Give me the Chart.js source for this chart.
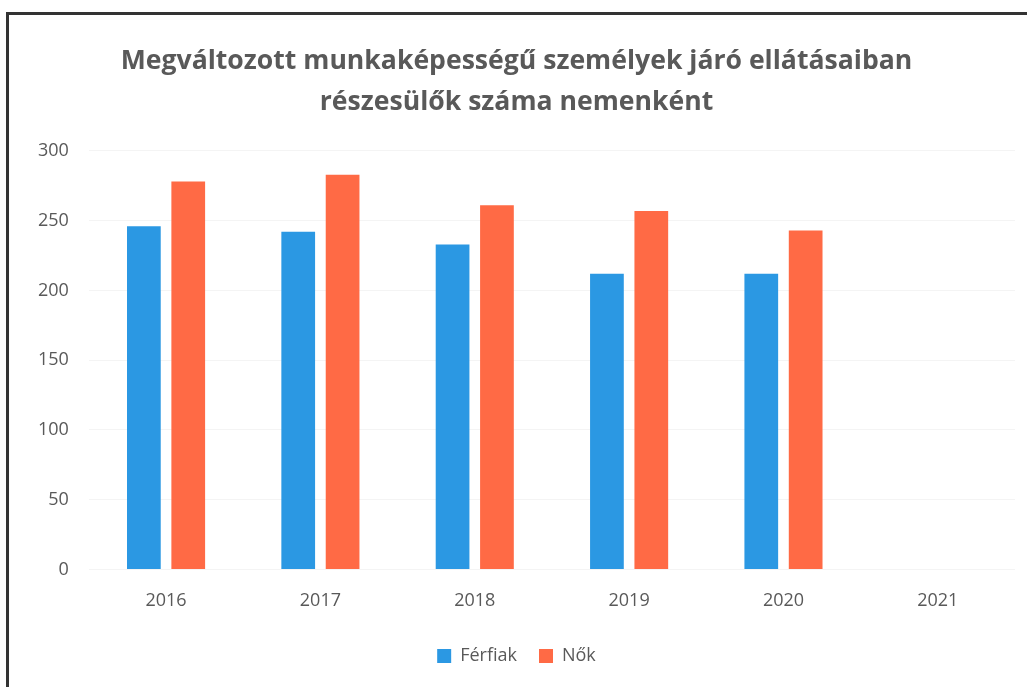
<!DOCTYPE html>
<html>
<head>
<meta charset="utf-8">
<script src="https://cdn.jsdelivr.net/npm/chart.js@4/dist/chart.umd.min.js"></script>
<style>
    body { margin: 0; background: #fff; }
    #frame {
        position: absolute; left: 0; top: 0; width: 1027px; height: 687px;
    }
    #border {
        position: absolute; left: 6px; top: 12px; width: 1040px; height: 700px;
        border-left: 3px solid #333; border-top: 3px solid #333;
    }
</style>
</head>
<body>
<div id="frame">
    <div id="border"></div>
    <canvas id="chart" width="1027" height="687"></canvas>
</div>
<script>
let years = ['2016', '2017', '2018', '2019', '2020', '2021'];
let ferfiak = [246, 242, 233, 212, 212, null];
let nok = [278, 283, 261, 257, 243, null];
let titleLines = ['Megváltozott munkaképességű személyek járó ellátásaiban', 'részesülők száma nemenként'];

let ctx = document.getElementById('chart').getContext('2d');
let chart = new Chart(ctx, {
    type: 'bar',
    data: {
        labels: years,
        datasets: [
            { label: 'Férfiak', data: ferfiak, backgroundColor: '#2b98e3' },
            { label: 'Nők', data: nok, backgroundColor: '#ff6a45' }
        ]
    },
    options: {
        responsive: false,
        animation: false,
        layout: { padding: { left: 18, right: 12, top: 41, bottom: 12 } },
        categoryPercentage: 0.575,
        barPercentage: 0.76,
        plugins: {
            title: {
                display: true,
                text: titleLines,
                color: '#595959',
                font: { family: 'Open Sans', size: 26.6, weight: 'bold', lineHeight: 1.54 },
                padding: { top: 0, bottom: 28 }
            },
            legend: {
                position: 'bottom',
                labels: {
                    color: '#595959',
                    font: { family: 'Open Sans', size: 18 },
                    boxWidth: 14,
                    boxHeight: 14,
                    padding: 22
                }
            },
            tooltip: { enabled: false }
        },
        scales: {
            x: {
                grid: { display: false },
                border: { display: false },
                ticks: { color: '#595959', font: { family: 'Open Sans', size: 18 }, padding: 13 }
            },
            y: {
                min: 0,
                max: 300,
                ticks: { stepSize: 50, color: '#595959', font: { family: 'Open Sans', size: 18 }, padding: 20 },
                grid: { color: '#f4f4f4', drawTicks: false },
                border: { display: false }
            }
        }
    }
});
</script>
</body>
</html>
